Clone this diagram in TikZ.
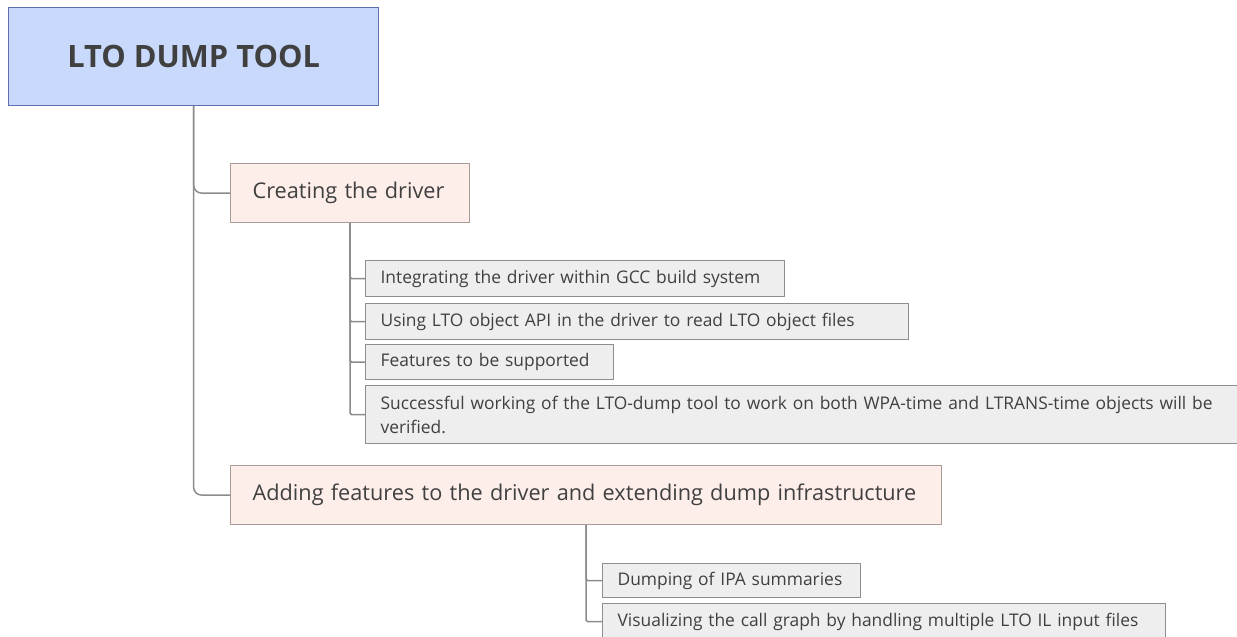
\documentclass[tikz,border=0pt]{standalone}
\usepackage{fontspec}
\setmainfont{Open Sans}
\definecolor{rootfill}{HTML}{C9D9FB}
\definecolor{rootdraw}{HTML}{5D6FAE}
\definecolor{lonefill}{HTML}{FDEEEA}
\definecolor{lonedraw}{HTML}{A89C96}
\definecolor{ltwofill}{HTML}{EEEEEE}
\definecolor{ltwodraw}{HTML}{8E8E8E}
\definecolor{txt}{HTML}{404040}
\definecolor{linec}{HTML}{8C8C8C}
\tikzset{
  x=1pt, y=-1pt,
  rootbox/.style={draw=rootdraw, fill=rootfill, line width=1.2pt, anchor=north west,
    minimum width=370pt, minimum height=98pt, inner sep=0pt,
    font=\fontsize{30.8}{34}\selectfont\bfseries, text=txt},
  lonebox/.style={draw=lonedraw, fill=lonefill, line width=1.2pt, anchor=north west,
    minimum height=59pt, inner xsep=22pt, inner ysep=0pt, align=left,
    font=\fontsize{21.7}{26}\selectfont, text=txt},
  ltwobox/.style={draw=ltwodraw, fill=ltwofill, line width=1.2pt, anchor=north west,
    minimum height=36pt, inner xsep=15pt, inner ysep=0pt, align=left,
    font=\fontsize{17.4}{24}\selectfont, text=txt},
  conn/.style={draw=linec, line width=1.5pt},
}
\begin{document}
\begin{tikzpicture}
\useasboundingbox (0,0) rectangle (1237,637);
\node[rootbox] (root) at (8,7) {LTO DUMP TOOL};
\node[lonebox, text width=195pt] (c1) at (230,163) {Creating the driver};
\node[lonebox, text width=667pt] (c2) at (230,465) {Adding features to the driver and extending dump infrastructure};
\node[ltwobox, text width=389pt] (s1) at (365,260) {Integrating the driver within GCC build system};
\node[ltwobox, text width=513pt, minimum height=36pt] (s2) at (365,303) {Using LTO object API in the driver to read LTO object files};
\node[ltwobox, text width=218pt, minimum height=35pt] (s3) at (365,344) {Features to be supported};
\node[ltwobox, text width=843pt, minimum height=58pt] (s4) at (365,385) {Successful working of the LTO-dump tool to work on both WPA-time and LTRANS-time objects will be\\verified.};
\node[ltwobox, text width=228pt, minimum height=34pt] (d1) at (602,563) {Dumping of IPA summaries};
\node[ltwobox, text width=533pt, minimum height=36pt] (d2) at (602,603) {Visualizing the call graph by handling multiple LTO IL input files};
\draw[conn, rounded corners=8pt] (root.south) |- (c1.west);
\draw[conn, rounded corners=8pt] (root.south) |- (c2.west);
\foreach \s in {s1,s2,s3,s4} \draw[conn, rounded corners=1.5pt] (c1.south) |- (\s.west);
\foreach \s in {d1,d2} \draw[conn, rounded corners=1.5pt] (c2.south) |- (\s.west);
\end{tikzpicture}
\end{document}
